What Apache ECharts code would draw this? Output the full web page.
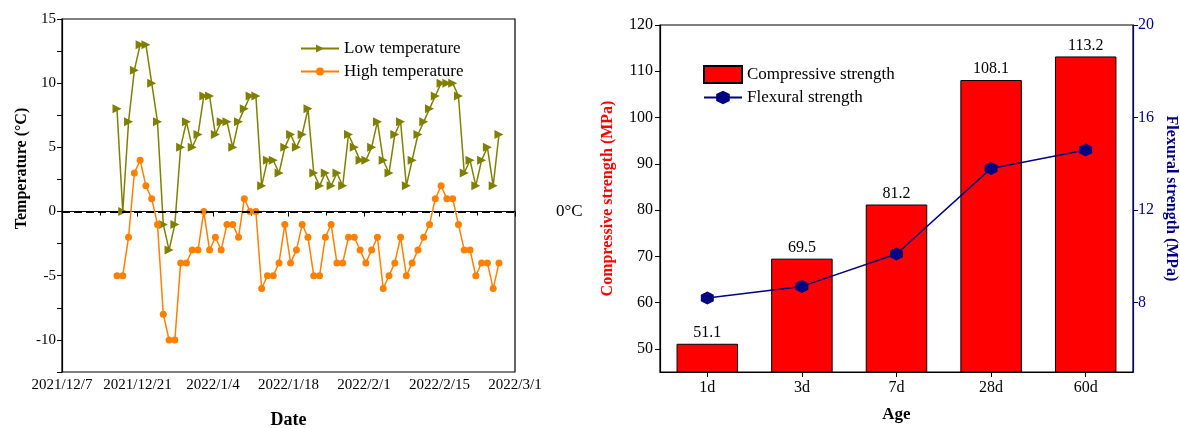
<!DOCTYPE html>
<html>
<head>
<meta charset="utf-8">
<script src="https://cdn.jsdelivr.net/npm/echarts@6/dist/echarts.min.js"></script>
<style>
html,body{margin:0;padding:0;background:#fff;}
#c{width:1180px;height:428px;}
</style>
</head>
<body>
<div id="c"></div>
<script>
// ---------- Left chart data ----------
const dateTicks = ['2021/12/7','2021/12/21','2022/1/4','2022/1/18','2022/2/1','2022/2/15','2022/3/1'];
const lowTemp = [8,0,7,11,13,13,10,7,-1,-3,-1,5,7,5,6,9,9,6,7,7,5,7,8,9,9,2,4,4,3,5,6,5,6,8,3,2,3,2,3,2,6,5,4,4,5,7,4,3,6,7,2,4,6,7,8,9,10,10,10,9,3,4,2,4,5,2,6];
const highTemp = [-5,-5,-2,3,4,2,1,-1,-8,-10,-10,-4,-4,-3,-3,0,-3,-2,-3,-1,-1,-2,1,0,0,-6,-5,-5,-4,-1,-4,-3,-1,-2,-5,-5,-2,-1,-4,-4,-2,-2,-3,-4,-3,-2,-6,-5,-4,-2,-5,-4,-3,-2,-1,1,2,1,1,-1,-3,-3,-5,-4,-4,-6,-4];
const tempTicks = [15,10,5,0,-5,-10];

// ---------- Right chart data ----------
const ages = ['1d','3d','7d','28d','60d'];
const compressive = [51.1,69.5,81.2,108.1,113.2];
const flexural = [8.2,8.7,10.1,13.8,14.6];
const compTicks = [50,60,70,80,90,100,110,120];
const flexTicks = [8,12,16,20];

const FONT = 'Liberation Serif';
const hexagon = 'path://M0,-10 L8.66,-5 L8.66,5 L0,10 L-8.66,5 L-8.66,-5 Z';

const chart = echarts.init(document.getElementById('c'), null, {renderer:'canvas'});

const txt = {fontFamily: FONT, fontSize: 15, color: '#000'};
const txtR = {fontFamily: FONT, fontSize: 16, color: '#000'};
const legTxt = {fontFamily: FONT, fontSize: 17, color: '#000'};

const option = {
  backgroundColor: '#fff',
  animation: false,
  textStyle: {fontFamily: FONT},
  grid: [
    {left: 62, right: 665, top: 19, bottom: 56, show: true, borderColor: '#000', borderWidth: 1.2,
     containLabel: false, outerBoundsMode: 'none'},
    {left: 660, right: 47, top: 25, bottom: 56, show: true, borderColor: '#000', borderWidth: 1.2,
     containLabel: false, outerBoundsMode: 'none'}
  ],
  legend: [
    {
      orient: 'vertical', left: 295, top: 35, itemWidth: 38, itemHeight: 10, itemGap: 6,
      textStyle: legTxt,
      data: ['Low temperature','High temperature']
    },
    {
      orient: 'vertical', left: 698, top: 60, itemWidth: 38, itemHeight: 17, itemGap: 5,
      textStyle: legTxt,
      data: [{name:'Compressive strength', icon:'rect'}, {name:'Flexural strength'}]
    }
  ],
  xAxis: [
    {
      type: 'value', gridIndex: 0, min: 0, max: 84, interval: 14,
      name: 'Date', nameLocation: 'middle', nameGap: 39,
      nameTextStyle: {fontFamily: FONT, fontSize: 18, fontWeight: 'bold', color: '#000'},
      axisLine: {show: true, lineStyle: {color: '#000', width: 1.2}},
      axisTick: {show: true, inside: false, length: 5, lineStyle: {color: '#000'}},
      minorTick: {show: true, splitNumber: 2, length: 4, lineStyle: {color: '#000'}},
      splitLine: {show: false},
      axisLabel: Object.assign({margin: 6, showMaxLabel: true, showMinLabel: true,
        formatter: v => dateTicks[Math.round(v / 14)] || ''}, txt)
    },
    {
      type: 'value', gridIndex: 0, min: -9.5, max: 68.77, show: false
    },
    {
      type: 'category', gridIndex: 1, data: ages,
      name: 'Age', nameLocation: 'middle', nameGap: 34,
      nameTextStyle: {fontFamily: FONT, fontSize: 17, fontWeight: 'bold', color: '#000'},
      axisLine: {show: true, lineStyle: {color: '#000', width: 1.2}},
      axisTick: {show: true, alignWithLabel: true, inside: false, length: 5, lineStyle: {color: '#000'}},
      splitLine: {show: false},
      axisLabel: Object.assign({margin: 8}, txtR)
    }
  ],
  yAxis: [
    {
      type: 'value', gridIndex: 0, min: -12.5, max: 15, interval: 2.5,
      name: 'Temperature (°C)', nameLocation: 'middle', nameGap: 32, nameRotate: 90,
      nameTextStyle: {fontFamily: FONT, fontSize: 16, fontWeight: 'bold', color: '#000', padding: [0, 0, 0, 54]},
      axisLine: {show: true, lineStyle: {color: '#000', width: 1.2}},
      axisTick: {show: true, inside: false, length: 5, lineStyle: {color: '#000'}},
      splitLine: {show: false},
      axisLabel: Object.assign({margin: 6,
        formatter: v => tempTicks.indexOf(v) >= 0 ? String(v) : ''}, txt)
    },
    {
      type: 'value', gridIndex: 1, min: 45, max: 120, position: 'left',
      name: 'Compressive strength (MPa)', nameLocation: 'middle', nameGap: 44, nameRotate: 90,
      nameTextStyle: {fontFamily: FONT, fontSize: 16, fontWeight: 'bold', color: '#ff0000'},
      axisLine: {show: true, lineStyle: {color: '#000', width: 1.2}},
      axisTick: {show: true, inside: false, length: 5, lineStyle: {color: '#000'}, customValues: compTicks},
      splitLine: {show: false},
      axisLabel: Object.assign({margin: 7, customValues: compTicks}, txtR)
    },
    {
      type: 'value', gridIndex: 1, min: 5, max: 20, position: 'right',
      name: 'Flexural strength (MPa)', nameLocation: 'middle', nameGap: 30, nameRotate: -90,
      nameTextStyle: {fontFamily: FONT, fontSize: 16, fontWeight: 'bold', color: '#000080'},
      axisLine: {show: true, lineStyle: {color: '#000080', width: 1.2}},
      axisTick: {show: true, inside: false, length: 5, lineStyle: {color: '#000080'}, customValues: flexTicks},
      splitLine: {show: false},
      axisLabel: Object.assign({}, txtR, {margin: 5, color: '#000080', customValues: flexTicks})
    }
  ],
  series: [
    {
      name: 'Low temperature', type: 'line', xAxisIndex: 1, yAxisIndex: 0,
      data: lowTemp.map((v, i) => [i, v]),
      symbol: 'triangle', symbolSize: 9, symbolRotate: -90,
      lineStyle: {color: '#808000', width: 1.5},
      itemStyle: {color: '#808000'},
      z: 3
    },
    {
      name: 'High temperature', type: 'line', xAxisIndex: 1, yAxisIndex: 0,
      data: highTemp.map((v, i) => [i, v]),
      symbol: 'circle', symbolSize: 7,
      lineStyle: {color: '#ff8000', width: 1.5},
      itemStyle: {color: '#ff8000'},
      z: 3,
      markLine: {
        silent: true, symbol: 'none',
        lineStyle: {color: '#000', type: 'dashed', width: 2, dashOffset: 0},
        label: {show: true, position: 'end', formatter: '0°C', distance: 41,
          fontFamily: FONT, fontSize: 17, color: '#000'},
        data: [{yAxis: 0}]
      }
    },
    {
      name: 'Compressive strength', type: 'bar', xAxisIndex: 2, yAxisIndex: 1,
      data: compressive, barWidth: '65%',
      itemStyle: {color: '#ff0000', borderColor: '#000', borderWidth: 1},
      label: {show: true, position: 'top', distance: 3, fontFamily: FONT, fontSize: 16, color: '#000'},
      z: 2
    },
    {
      name: 'Flexural strength', type: 'line', xAxisIndex: 2, yAxisIndex: 2,
      data: flexural,
      symbol: hexagon, symbolSize: 13,
      lineStyle: {color: '#000080', width: 1.5},
      itemStyle: {color: '#000080'},
      z: 4
    }
  ]
};
chart.setOption(option);
</script>
</body>
</html>
